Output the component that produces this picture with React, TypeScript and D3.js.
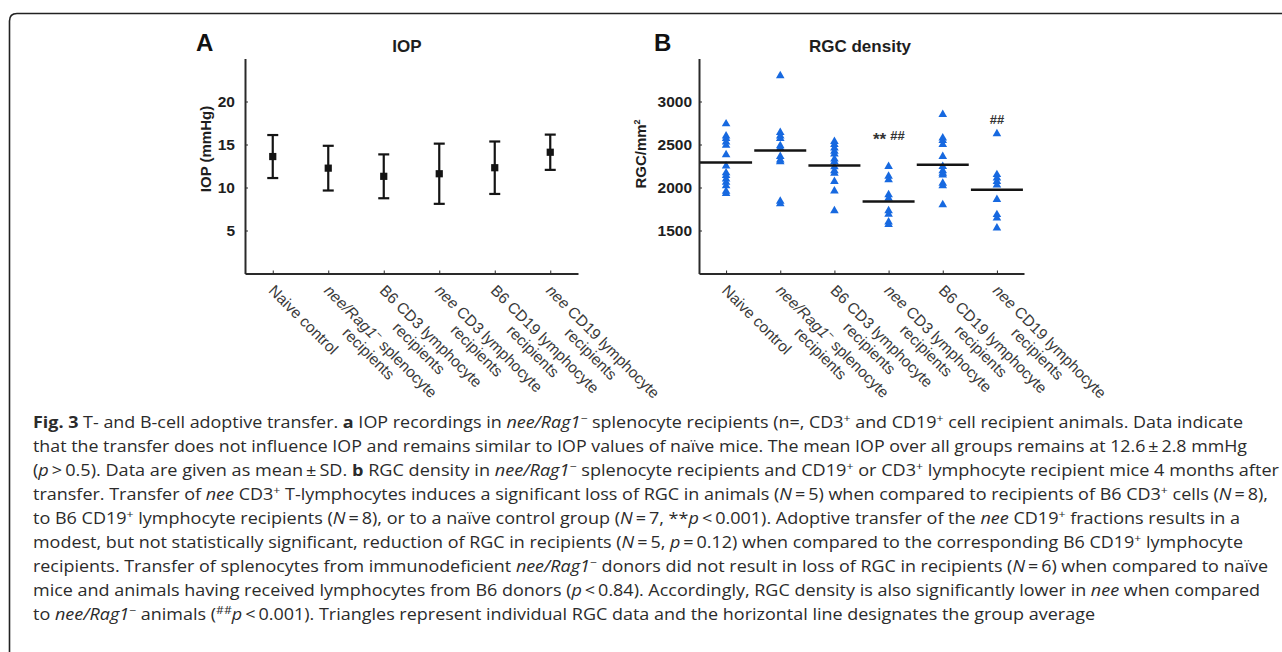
import React, { useEffect, useRef } from 'react';
import * as d3 from 'd3';

// group order on both x axes
const groupIds = [1, 2, 3, 4, 5, 6];

// tick label lines, [text, style] with style b = bold, i = italic, s = superscript
const xLabelLines = [
  [[['Naive control']]],
  [[['nee/Rag1', 'i'], ['−', 's'], [' splenocyte']], [['recipients']]],
  [[['B6 CD3 lymphocyte']], [['recipients']]],
  [[['nee', 'i'], [' CD3 lymphocyte']], [['recipients']]],
  [[['B6 CD19 lymphocyte']], [['recipients']]],
  [[['nee', 'i'], [' CD19 lymphocyte']], [['recipients']]],
];

// panel A: IOP mean +- SD (mmHg)
const iopMean = [13.6, 12.25, 11.3, 11.6, 12.3, 14.1];
const iopSd = [2.5, 2.6, 2.55, 3.5, 3.05, 2.05];
const iopTicks = [5, 10, 15, 20];

// panel B: RGC density (cells/mm2), one array per group
const rgcNaive = [2740, 2600, 2570, 2530, 2490, 2380, 2250, 2170, 2140, 2100, 2060, 2020, 1955, 1930];
const rgcNeeRag1 = [3300, 2640, 2600, 2570, 2485, 2460, 2360, 2320, 2300, 1840, 1810];
const rgcB6CD3 = [2535, 2500, 2460, 2420, 2390, 2330, 2300, 2240, 2195, 2165, 2070, 1960, 1730];
const rgcNeeCD3 = [2245, 2130, 2090, 1915, 1875, 1730, 1690, 1600, 1570];
const rgcB6CD19 = [2850, 2575, 2545, 2500, 2360, 2245, 2195, 2165, 2145, 2050, 2020, 1800];
const rgcNeeCD19 = [2625, 2150, 2110, 2070, 2030, 1860, 1685, 1645, 1530];
const rgcMean = [2290, 2430, 2255, 1837, 2264, 1973];
const rgcTicks = [1500, 2000, 2500, 3000];

// significance marks above groups
const sigGroups = [4, 4, 6];
const sigText = ['**', '##', '##'];
const sigValue = [2550, 2550, 2740];

const T = '\u2009';
const captionLines = [
  [['Fig. 3', 'b'], [' T- and B-cell adoptive transfer. '], ['a', 'b'], [' IOP recordings in '], ['nee/Rag1', 'i'], ['−', 's'], [' splenocyte recipients (n=, CD3'], ['+', 's'], [' and CD19'], ['+', 's'], [' cell recipient animals. Data indicate']],
  [[`that the transfer does not influence IOP and remains similar to IOP values of naïve mice. The mean IOP over all groups remains at 12.6${T}±${T}2.8 mmHg`]],
  [['('], ['p', 'i'], [`${T}>${T}0.5). Data are given as mean${T}±${T}SD. `], ['b', 'b'], [' RGC density in '], ['nee/Rag1', 'i'], ['−', 's'], [' splenocyte recipients and CD19'], ['+', 's'], [' or CD3'], ['+', 's'], [' lymphocyte recipient mice 4 months after']],
  [['transfer. Transfer of '], ['nee', 'i'], [' CD3'], ['+', 's'], [' T-lymphocytes induces a significant loss of RGC in animals ('], ['N', 'i'], [`${T}=${T}5) when compared to recipients of B6 CD3`], ['+', 's'], [' cells ('], ['N', 'i'], [`${T}=${T}8),`]],
  [['to B6 CD19'], ['+', 's'], [' lymphocyte recipients ('], ['N', 'i'], [`${T}=${T}8), or to a naïve control group (`], ['N', 'i'], [`${T}=${T}7, **`], ['p', 'i'], [`${T}<${T}0.001). Adoptive transfer of the `], ['nee', 'i'], [' CD19'], ['+', 's'], [' fractions results in a']],
  [['modest, but not statistically significant, reduction of RGC in recipients ('], ['N', 'i'], [`${T}=${T}5, `], ['p', 'i'], [`${T}=${T}0.12) when compared to the corresponding B6 CD19`], ['+', 's'], [' lymphocyte']],
  [['recipients. Transfer of splenocytes from immunodeficient '], ['nee/Rag1', 'i'], ['−', 's'], [' donors did not result in loss of RGC in recipients ('], ['N', 'i'], [`${T}=${T}6) when compared to naïve`]],
  [['mice and animals having received lymphocytes from B6 donors ('], ['p', 'i'], [`${T}<${T}0.84). Accordingly, RGC density is also significantly lower in `], ['nee', 'i'], [' when compared']],
  [['to '], ['nee/Rag1', 'i'], ['−', 's'], [' animals ('], ['##', 's'], ['p', 'i'], [`${T}<${T}0.001). Triangles represent individual RGC data and the horizontal line designates the group average`]],
];
const captionWidths = [1210, 1214, 1246, 1235, 1207, 1210, 1235, 1227, 1062];

const FONT = '"Liberation Sans", Arial, Helvetica, sans-serif';
const AXIS = '#2a2a2a';
const LBL = 15.5;

function addSegs(text, segs, size) {
  let up = false;
  segs.forEach(([s, st]) => {
    const ts = text.append('tspan').text(s);
    if (st === 'b') ts.attr('font-weight', 'bold');
    if (st === 'i') ts.attr('font-style', 'italic');
    if (st === 's') {
      ts.attr('font-size', size * 0.68);
      if (!up) ts.attr('dy', -size * 0.38);
      up = true;
    } else if (up) {
      ts.attr('dy', size * 0.38);
      up = false;
    }
  });
}

function drawFrame(svg, x, y, pad, yTicks, title, letter, letterX, titleX) {
  const g = svg.append('g');
  const yAxis = d3.axisLeft(y).tickValues(yTicks).tickSize(-3).tickSizeOuter(0).tickPadding(pad).tickFormat(d3.format('d'));
  const xAxis = d3.axisBottom(x).tickValues(groupIds).tickSize(-3).tickSizeOuter(0).tickFormat(() => '');

  const ya = g.append('g').attr('transform', `translate(${x.range()[0]},0)`).call(yAxis);
  const xa = g.append('g').attr('transform', `translate(0,${y.range()[0]})`).call(xAxis);
  [ya, xa].forEach((a) => {
    a.select('.domain').attr('stroke', AXIS).attr('stroke-width', 2);
    a.selectAll('.tick line').attr('stroke', AXIS).attr('stroke-width', 1);
  });
  ya.selectAll('.tick text')
    .attr('fill', '#1e1e1e')
    .attr('font-family', FONT)
    .attr('font-weight', 'bold')
    .attr('font-size', 15.5);

  // rotated category labels
  const base = y.range()[0];
  groupIds.forEach((id, i) => {
    const lg = g.append('g')
      .attr('transform', `translate(${x(id) - 5},${base + 18}) rotate(45)`)
      .attr('font-family', FONT)
      .attr('font-size', LBL)
      .attr('fill', '#3a3a3a');
    const lines = xLabelLines[i];
    const t1 = lg.append('text').attr('x', 0).attr('y', 0);
    addSegs(t1, lines[0], LBL);
    const len1 = t1.node().getComputedTextLength();
    lines.slice(1).forEach((ln, k) => {
      const t = lg.append('text').attr('x', len1 / 2).attr('y', 17 * (k + 1)).attr('text-anchor', 'middle');
      addSegs(t, ln, LBL);
    });
  });

  g.append('text')
    .attr('x', titleX).attr('y', 52)
    .attr('text-anchor', 'middle')
    .attr('font-family', FONT).attr('font-weight', 'bold').attr('font-size', 17)
    .attr('fill', '#1e1e1e')
    .text(title);
  g.append('text')
    .attr('x', letterX).attr('y', 51)
    .attr('font-family', FONT).attr('font-weight', 'bold').attr('font-size', 24)
    .attr('fill', '#111')
    .text(letter);
  return g;
}

const App = () => {
  const svgRef = useRef(null);

  useEffect(() => {
    const svg = d3.select(svgRef.current);
    svg.selectAll('*').remove();

    // outer frame of the figure
    svg.append('path')
      .attr('d', 'M9.5,660 V21 Q9.5,13.5 17,13.5 H1290')
      .attr('fill', 'none')
      .attr('stroke', '#222')
      .attr('stroke-width', 1.6);

    // ---------- panel A ----------
    const xA = d3.scaleLinear().domain([0.5, 6.5]).range([245, 578]);
    const yA = d3.scaleLinear().domain([0, 25]).range([273.5, 58.5]);
    const gA = drawFrame(svg, xA, yA, 10, iopTicks, 'IOP', 'A', 196, 407);

    gA.append('text')
      .attr('transform', `translate(211,149) rotate(-90)`)
      .attr('text-anchor', 'middle')
      .attr('font-family', FONT).attr('font-weight', 'bold').attr('font-size', 15)
      .attr('fill', '#1e1e1e')
      .text('IOP (mmHg)');

    const bars = gA.append('g').attr('stroke', '#141414').attr('stroke-width', 2.2).attr('fill', 'none');
    groupIds.forEach((id, i) => {
      const cx = xA(id);
      const hi = yA(iopMean[i] + iopSd[i]);
      const lo = yA(iopMean[i] - iopSd[i]);
      bars.append('line').attr('x1', cx).attr('x2', cx).attr('y1', hi).attr('y2', lo);
      bars.append('line').attr('x1', cx - 5.5).attr('x2', cx + 5.5).attr('y1', hi).attr('y2', hi);
      bars.append('line').attr('x1', cx - 5.5).attr('x2', cx + 5.5).attr('y1', lo).attr('y2', lo);
      gA.append('rect')
        .attr('x', cx - 3.6).attr('y', yA(iopMean[i]) - 3.6)
        .attr('width', 7.2).attr('height', 7.2)
        .attr('fill', '#141414');
    });

    // ---------- panel B ----------
    const xB = d3.scaleLinear().domain([0.5, 6.5]).range([699, 1024]);
    const yB = d3.scaleLinear().domain([1000, 3500]).range([273.5, 58.5]);
    const gB = drawFrame(svg, xB, yB, 7, rgcTicks, 'RGC density', 'B', 654, 860);

    const yl = gB.append('text')
      .attr('transform', `translate(646,154) rotate(-90)`)
      .attr('text-anchor', 'middle')
      .attr('font-family', FONT).attr('font-weight', 'bold').attr('font-size', 15)
      .attr('fill', '#1e1e1e');
    yl.append('tspan').text('RGC/mm');
    yl.append('tspan').attr('font-size', 9).attr('dy', -6).text('2');

    const rgcGroups = [rgcNaive, rgcNeeRag1, rgcB6CD3, rgcNeeCD3, rgcB6CD19, rgcNeeCD19];
    const tri = d3.symbol().type(d3.symbolTriangle).size(32);
    rgcGroups.forEach((vals, i) => {
      const cx = xB(groupIds[i]);
      gB.append('g').selectAll('path').data(vals).join('path')
        .attr('d', tri)
        .attr('transform', (d) => `translate(${cx},${yB(d)})`)
        .attr('fill', '#1769e0');
    });

    const half = (xB(2) - xB(1)) * 0.48;
    gB.append('g').selectAll('line').data(rgcMean).join('line')
      .attr('x1', (d, i) => xB(groupIds[i]) - half)
      .attr('x2', (d, i) => xB(groupIds[i]) + half)
      .attr('y1', (d) => yB(d))
      .attr('y2', (d) => yB(d))
      .attr('stroke', '#141414')
      .attr('stroke-width', 2.6);

    sigText.forEach((s, i) => {
      const cx = xB(sigGroups[i]) + (i === 0 ? -9 : i === 1 ? 9 : 0);
      gB.append('text')
        .attr('x', cx).attr('y', yB(sigValue[i]) + (s === '**' ? 5 : 0))
        .attr('text-anchor', 'middle')
        .attr('font-family', FONT).attr('font-weight', 'bold')
        .attr('font-size', s === '**' ? 17 : 13)
        .attr('fill', '#333')
        .text(s);
    });

    // ---------- caption ----------
    const cap = svg.append('g')
      .attr('font-family', '"Open Sans", "Noto Sans", sans-serif')
      .attr('font-size', 15.5)
      .attr('fill', '#2b2b2b');
    captionLines.forEach((segs, i) => {
      const t = cap.append('text')
        .attr('x', 33).attr('y', 428 + i * 24)
        .attr('textLength', captionWidths[i])
        .attr('lengthAdjust', 'spacingAndGlyphs');
      addSegs(t, segs, 15.5);
    });
  }, []);

  return (
    <div style={{ position: 'absolute', left: 0, top: 0, width: 1282, height: 652, background: 'white' }}>
      <svg ref={svgRef} width={1282} height={652} style={{ display: 'block' }} />
    </div>
  );
};

export default App;
